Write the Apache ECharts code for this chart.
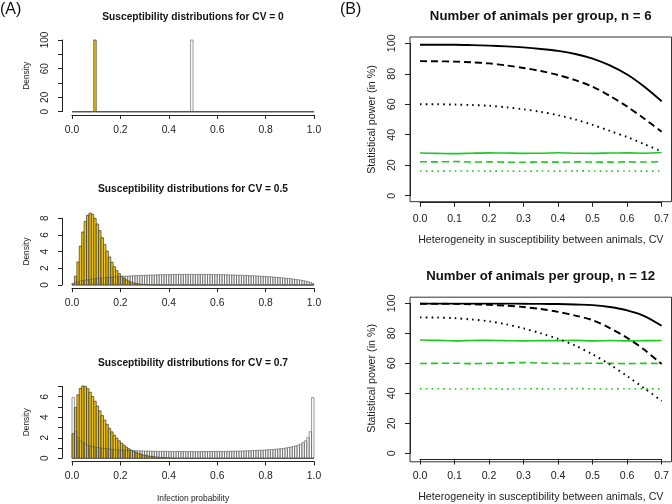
<!DOCTYPE html>
<html><head><meta charset="utf-8">
<script src="https://cdn.jsdelivr.net/npm/echarts@6/dist/echarts.min.js"></script>
<style>html,body{margin:0;padding:0;background:#fff}#c{width:672px;height:504px}</style>
</head><body><div id="c"></div>
<script>
// ---------- Panel A: histograms (bins of width 0.01 from 0 to 1) ----------
const binStart = 0, binWidth = 0.01;
const cv0Yellow = [
0,0,0,0,0,0,0,0,0,100,
0,0,0,0,0,0,0,0,0,0,
0,0,0,0,0,0,0,0,0,0,
0,0,0,0,0,0,0,0,0,0,
0,0,0,0,0,0,0,0,0,0,
0,0,0,0,0,0,0,0,0,0,
0,0,0,0,0,0,0,0,0,0,
0,0,0,0,0,0,0,0,0,0,
0,0,0,0,0,0,0,0,0,0,
0,0,0,0,0,0,0,0,0,0];
const cv0White = [
0,0,0,0,0,0,0,0,0,0,
0,0,0,0,0,0,0,0,0,0,
0,0,0,0,0,0,0,0,0,0,
0,0,0,0,0,0,0,0,0,0,
0,0,0,0,0,0,0,0,0,100,
0,0,0,0,0,0,0,0,0,0,
0,0,0,0,0,0,0,0,0,0,
0,0,0,0,0,0,0,0,0,0,
0,0,0,0,0,0,0,0,0,0,
0,0,0,0,0,0,0,0,0,0];
const cv05Yellow = [
0.09,1.05,2.76,4.67,6.36,7.63,8.37,8.62,8.47,7.99,
7.32,6.52,5.68,4.85,4.07,3.36,2.73,2.19,1.73,1.36,
1.05,0.80,0.61,0.46,0.34,0.25,0.18,0.13,0.09,0.07,
0.05,0.03,0.02,0.02,0.01,0.01,0,0,0,0,
0,0,0,0,0,0,0,0,0,0,
0,0,0,0,0,0,0,0,0,0,
0,0,0,0,0,0,0,0,0,0,
0,0,0,0,0,0,0,0,0,0,
0,0,0,0,0,0,0,0,0,0,
0,0,0,0,0,0,0,0,0,0];
const cv05White = [
0.18,0.31,0.40,0.47,0.53,0.58,0.63,0.67,0.71,0.75,
0.78,0.81,0.84,0.87,0.90,0.92,0.95,0.97,0.99,1.01,
1.03,1.05,1.06,1.08,1.10,1.11,1.12,1.14,1.15,1.16,
1.17,1.18,1.19,1.20,1.21,1.22,1.23,1.23,1.24,1.25,
1.25,1.25,1.26,1.26,1.27,1.27,1.27,1.27,1.27,1.27,
1.27,1.27,1.27,1.27,1.27,1.27,1.26,1.26,1.25,1.25,
1.25,1.24,1.23,1.23,1.22,1.21,1.20,1.19,1.18,1.17,
1.16,1.15,1.14,1.12,1.11,1.10,1.08,1.06,1.05,1.03,
1.01,0.99,0.97,0.95,0.92,0.90,0.87,0.84,0.81,0.78,
0.75,0.71,0.67,0.63,0.58,0.53,0.47,0.40,0.31,0.18];
const cv07Yellow = [
2.40,4.93,6.18,6.81,7.04,7.00,6.77,6.43,6.02,5.56,
5.09,4.62,4.16,3.72,3.31,2.92,2.57,2.25,1.96,1.70,
1.47,1.27,1.09,0.93,0.79,0.67,0.56,0.47,0.40,0.33,
0.28,0.23,0.19,0.16,0.13,0.10,0.09,0.07,0.06,0.05,
0.04,0.03,0.02,0.02,0.01,0.01,0,0,0,0,
0,0,0,0,0,0,0,0,0,0,
0,0,0,0,0,0,0,0,0,0,
0,0,0,0,0,0,0,0,0,0,
0,0,0,0,0,0,0,0,0,0,
0,0,0,0,0,0,0,0,0,0];
const cv07White = [
5.91,2.58,2.01,1.71,1.52,1.39,1.29,1.21,1.15,1.09,
1.05,1.01,0.97,0.94,0.92,0.89,0.87,0.85,0.83,0.82,
0.80,0.79,0.78,0.77,0.76,0.75,0.74,0.73,0.72,0.71,
0.71,0.70,0.70,0.69,0.69,0.68,0.68,0.67,0.67,0.67,
0.67,0.66,0.66,0.66,0.66,0.66,0.66,0.65,0.65,0.65,
0.65,0.65,0.65,0.66,0.66,0.66,0.66,0.66,0.66,0.67,
0.67,0.67,0.67,0.68,0.68,0.69,0.69,0.70,0.70,0.71,
0.71,0.72,0.73,0.74,0.75,0.76,0.77,0.78,0.79,0.80,
0.82,0.83,0.85,0.87,0.89,0.92,0.94,0.97,1.01,1.05,
1.09,1.15,1.21,1.29,1.39,1.52,1.71,2.01,2.58,5.91];

const histTitles = ['Susceptibility distributions for CV = 0','Susceptibility distributions for CV = 0.5','Susceptibility distributions for CV = 0.7'];
const densityLabelsCV0 = [0, 20, 60, 100];
const densityLabelsCV07 = [0, 2, 4, 6];

// ---------- Panel B: statistical power (%) vs CV ----------
const cvValues = [0,0.05,0.1,0.15,0.2,0.25,0.3,0.35,0.4,0.45,0.5,0.55,0.6,0.65,0.7];
const n6BlackSolid  = [99,99,99,98.8,98.5,98,97.3,96.3,95,93,90,85.5,79.5,71.5,62];
const n6BlackDashed = [88.3,88.2,88,87.5,86.8,85.5,83.8,81.8,79.2,75.8,71.5,65.5,58.5,50.5,42];
const n6BlackDotted = [60,60,59.8,59.5,59,58,56.7,55,52.8,50,46.5,42.5,38.5,33.8,29];
const n6GreenSolid  = [28,27.8,27.6,27.9,28.1,28,27.8,27.9,28.2,27.9,27.8,28,28.1,27.9,28.3];
const n6GreenDashed = [22.3,22.2,22.4,22.1,22.2,22.0,21.9,22.1,22.0,22.2,22.1,22.0,22.2,22.1,22.3];
const n6GreenDotted = [16.2,16.1,16.2,16.3,16.1,16.2,16.0,16.2,16.1,16.3,16.2,16.1,16.2,16.1,16.2];
const n12BlackSolid  = [99.8,99.8,99.8,99.8,99.8,99.8,99.7,99.6,99.5,99.2,98.8,97.5,95.3,91.5,85];
const n12BlackDashed = [99.7,99.7,99.6,99.4,99.0,98.4,97.5,96.2,94.3,91.8,88.8,83.5,77,69,59.5];
const n12BlackDotted = [90.6,90.5,90.1,89.2,88,86,83.3,80,76.3,71.8,66,59.2,51.5,43.3,35];
const n12GreenSolid  = [75.5,75.3,75.0,75.2,75.3,75.1,75.0,75.2,75.1,75.3,75.0,75.2,75.0,75.1,75.2];
const n12GreenDashed = [59.9,60.0,60.1,59.8,60.0,60.3,60.5,60.2,60.0,59.9,60.1,60.0,59.8,60.0,59.9];
const n12GreenDotted = [43.0,43.1,42.9,43.0,43.2,42.8,43.1,43.0,42.9,43.2,43.0,42.9,43.1,43.0,43.0];
const powerTitles = ['Number of animals per group, n = 6','Number of animals per group, n = 12'];

// ---------- styling ----------
const FONT = 'Liberation Sans, Arial, Helvetica, sans-serif';
const AX = '#222';
const GOLD = '#F5C800';
const GREEN = '#1EC81E';

function bins(arr){ return arr.map((h,i)=>[binStart+i*binWidth, binStart+(i+1)*binWidth, h]); }
function histRender(fill, stroke, lw){
  return function(params, api){
    const p0 = api.coord([api.value(0), 0]);
    const p1 = api.coord([api.value(1), api.value(2)]);
    return {type:'rect', shape:{x:p0[0], y:p1[1], width:p1[0]-p0[0], height:p0[1]-p1[1]},
      style:{fill:fill, stroke:stroke, lineWidth:lw}};
  };
}
function histX(gi){
  return {gridIndex:gi, type:'value', min:0, max:1, interval:0.2, offset:3.2,
    axisLine:{show:true, onZero:false, lineStyle:{color:AX, width:1}},
    axisTick:{show:true, length:4, lineStyle:{color:AX}},
    axisLabel:{fontSize:10.3, color:AX, margin:10, fontFamily:FONT, formatter:v=>v.toFixed(1)},
    splitLine:{show:false},
    name: gi===2 ? 'Infection probability' : '', nameLocation:'middle', nameGap:33,
    nameTextStyle:{fontSize:8.4, color:AX, fontFamily:FONT}};
}
function histY(gi, max, interval, fmt){
  return {gridIndex:gi, type:'value', min:0, max:max, interval:interval, offset:10,
    axisLine:{show:true, onZero:false, lineStyle:{color:AX, width:1}},
    axisTick:{show:true, length:4, lineStyle:{color:AX}},
    axisLabel:{fontSize:10, color:AX, margin:12, rotate:90, fontFamily:FONT, formatter:fmt},
    splitLine:{show:false},
    name:'Density', nameLocation:'middle', nameGap:31,
    nameTextStyle:{fontSize:8.4, color:AX, fontFamily:FONT}};
}
function powX(gi){
  return {gridIndex:gi, type:'value', min:0, max:0.7, interval:0.1, offset:6.1,
    axisLine:{show:true, onZero:false, lineStyle:{color:AX, width:1}},
    axisTick:{show:true, length:5, lineStyle:{color:AX}},
    axisLabel:{fontSize:10.6, color:AX, margin:11.5, fontFamily:FONT, formatter:v=>v.toFixed(1)},
    splitLine:{show:false},
    name:'Heterogeneity in susceptibility between animals, CV', nameLocation:'middle', nameGap:32.5,
    nameTextStyle:{fontSize:10.7, color:AX, fontFamily:FONT}};
}
function powY(gi){
  return {gridIndex:gi, type:'value', min:0, max:100, interval:20, offset:10,
    axisLine:{show:true, onZero:false, lineStyle:{color:AX, width:1}},
    axisTick:{show:true, length:5, lineStyle:{color:AX}},
    axisLabel:{fontSize:10.6, color:AX, margin:12.5, rotate:90, fontFamily:FONT},
    splitLine:{show:false},
    name:'Statistical power (in %)', nameLocation:'middle', nameGap:32.5,
    nameTextStyle:{fontSize:10.7, color:AX, fontFamily:FONT}};
}
function hidden(gi){ return {gridIndex:gi, type:'value', show:false, min:0, max:1}; }
function histSeries(gi, yellow, white){
  return [
    {type:'custom', xAxisIndex:gi, yAxisIndex:gi, data:bins(yellow), renderItem:histRender(GOLD,'#333',0.7), encode:{x:[0,1], y:2}, clip:false, silent:true},
    {type:'custom', xAxisIndex:gi, yAxisIndex:gi, data:bins(white), renderItem:histRender('none','#555',0.6), encode:{x:[0,1], y:2}, clip:false, silent:true}
  ];
}
function line(gi, vals, color, type, width){
  return {type:'line', xAxisIndex:gi, yAxisIndex:gi, data:cvValues.map((x,i)=>[x, vals[i]]),
    showSymbol:false, symbol:'none', smooth:0.3, silent:true,
    lineStyle:{color:color, width:width, type:type, cap:'butt'}};
}
const DASH = [7,4], DOT = [1.6,4.2];
function txt(x, y, s, size, bold, align){
  return {type:'text', x:x, y:y, silent:true,
    style:{text:s, fontSize:size, fontWeight:bold?'bold':'normal', fontFamily:FONT, fill:'#111',
      align:align||'center', verticalAlign:'middle', textAlign:align||'center', textVerticalAlign:'middle'}};
}

const option = {
  animation:false,
  backgroundColor:'#fff',
  grid:[
    {left:72, top:40, width:242, height:71.7},
    {left:72, top:218.3, width:242, height:66.7},
    {left:72, top:386.4, width:242, height:71.9},
    {left:420, top:43.3, width:242, height:152.4},
    {left:420, top:303.3, width:242, height:152.4},
    {left:410, top:37, width:261.5, height:164.7, show:true, borderColor:'#333', borderWidth:1, backgroundColor:'transparent'},
    {left:410, top:297.2, width:261.5, height:164.6, show:true, borderColor:'#333', borderWidth:1, backgroundColor:'transparent'}
  ],
  xAxis:[histX(0), histX(1), histX(2), powX(3), powX(4), hidden(5), hidden(6)],
  yAxis:[
    histY(0, 100, 20, v=>densityLabelsCV0.includes(v)?String(v):''),
    histY(1, 8, 2, v=>String(v)),
    histY(2, 7, 1, v=>densityLabelsCV07.includes(v)?String(v):''),
    powY(3), powY(4), hidden(5), hidden(6)
  ],
  series:[].concat(
    histSeries(0, cv0Yellow, cv0White),
    histSeries(1, cv05Yellow, cv05White),
    histSeries(2, cv07Yellow, cv07White),
    [
      line(3, n6GreenSolid, GREEN, 'solid', 1.6),
      line(3, n6GreenDashed, GREEN, DASH, 1.6),
      line(3, n6GreenDotted, GREEN, DOT, 1.6),
      line(3, n6BlackSolid, '#000', 'solid', 1.9),
      line(3, n6BlackDashed, '#000', DASH, 1.9),
      line(3, n6BlackDotted, '#000', DOT, 1.9),
      line(4, n12GreenSolid, GREEN, 'solid', 1.6),
      line(4, n12GreenDashed, GREEN, DASH, 1.6),
      line(4, n12GreenDotted, GREEN, DOT, 1.6),
      line(4, n12BlackSolid, '#000', 'solid', 1.9),
      line(4, n12BlackDashed, '#000', DASH, 1.9),
      line(4, n12BlackDotted, '#000', DOT, 1.9)
    ]
  ),
  graphic:[
    txt(0, 9.5, '(A)', 16, false, 'left'),
    txt(340, 9.5, '(B)', 16, false, 'left'),
    txt(193, 16.7, histTitles[0], 10.2, true),
    txt(193, 189.3, histTitles[1], 10.2, true),
    txt(193, 363.3, histTitles[2], 10.2, true),
    txt(540.7, 16.7, powerTitles[0], 13.2, true),
    txt(540.7, 276, powerTitles[1], 13.2, true)
  ]
};
echarts.init(document.getElementById('c'), null, {renderer:'canvas'}).setOption(option);
</script></body></html>
